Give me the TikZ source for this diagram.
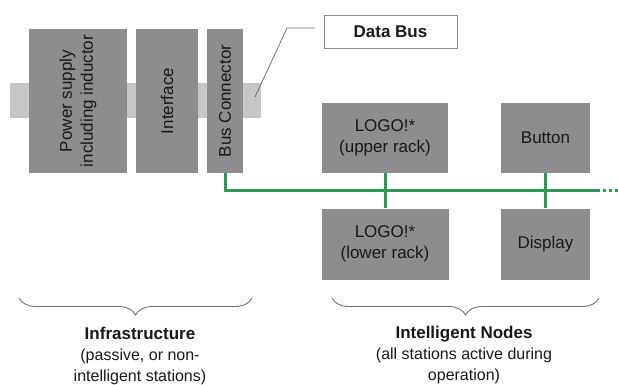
\documentclass[tikz,border=0pt]{standalone}
\usepackage{fontspec}
\setmainfont{Liberation Sans}
\usetikzlibrary{decorations.pathreplacing}
\definecolor{boxgray}{RGB}{141,141,141}
\definecolor{bargray}{RGB}{198,198,198}
\definecolor{busgreen}{RGB}{46,152,86}
\definecolor{txt}{RGB}{25,25,25}
\tikzset{
  station/.style={draw=none, fill=boxgray, text=txt, align=center, inner sep=0pt,
    font=\fontsize{17}{21}\selectfont},
  bus/.style={draw=busgreen, line width=3pt},
  bracestyle/.style={draw=black!55, line width=0.9pt, decorate,
    decoration={brace, mirror, amplitude=17pt}},
  caption/.style={align=center, text=txt, font=\fontsize{16}{21}\selectfont}
}
\begin{document}
\begin{tikzpicture}[x=1pt,y=-1pt]
\useasboundingbox[fill=white] (0,0) rectangle (618,385);
% light bar
\fill[bargray] (10,83) rectangle (261,118);
% infrastructure stations
\node[station, rotate=90, minimum width=144pt, minimum height=98pt] (ps) at (78,101)
  {Power supply\\including inductor};
\node[station, rotate=90, minimum width=144pt, minimum height=62pt] (if) at (167,101) {Interface};
\node[station, rotate=90, minimum width=144pt, minimum height=36pt] (bc) at (225,101) {Bus Connector};
% data bus label
\node[draw=black!45, line width=0.8pt, fill=white, minimum width=133pt, minimum height=33pt,
  inner sep=0pt, text=txt, font=\bfseries\fontsize{17}{21}\selectfont] (db) at (390.5,31.5) {Data Bus};
\coordinate (lead) at (255,97);
\coordinate (knee) at (287,28);
\draw[black!60, line width=0.7pt, shorten >=9pt] (lead) -- (knee) -- (knee -| db.west);
% intelligent nodes
\node[station, minimum width=126pt, minimum height=70pt] (lu) at (385,138) {LOGO!*\\(upper rack)};
\node[station, minimum width=89pt, minimum height=70pt] (bt) at (545.5,138) {Button};
\node[station, minimum width=127pt, minimum height=71pt] (ll) at (385,244) {LOGO!*\\(lower rack)};
\node[station, minimum width=89pt, minimum height=71pt] (dp) at (545.5,244) {Display};
% bus
\coordinate (busend) at (600,190);
\draw[bus] (bc.west) |- (busend);
\draw[bus] (lu.south) -- (ll.north);
\draw[bus] (bt.south) -- (dp.north);
\draw[busgreen, line width=3pt, dash pattern=on 2.5pt off 3.5pt] (busend) ++(3,0) -- ++(16,0);
% braces
\coordinate (b1l) at (19,298);
\coordinate (b1r) at (252,298);
\coordinate (b2l) at (332,298);
\coordinate (b2r) at (599,298);
\draw[bracestyle] (b1l) -- (b1r);
\draw[bracestyle] (b2l) -- (b2r);
% captions
\node[caption] (cap1) at (140,355.5) {{\bfseries\fontsize{17}{21}\selectfont Infrastructure}\\(passive, or non-\\intelligent stations)};
\node[caption] (cap2) at (464,354.5) {{\bfseries\fontsize{17}{21}\selectfont Intelligent Nodes}\\(all stations active during\\operation)};
\end{tikzpicture}
\end{document}
